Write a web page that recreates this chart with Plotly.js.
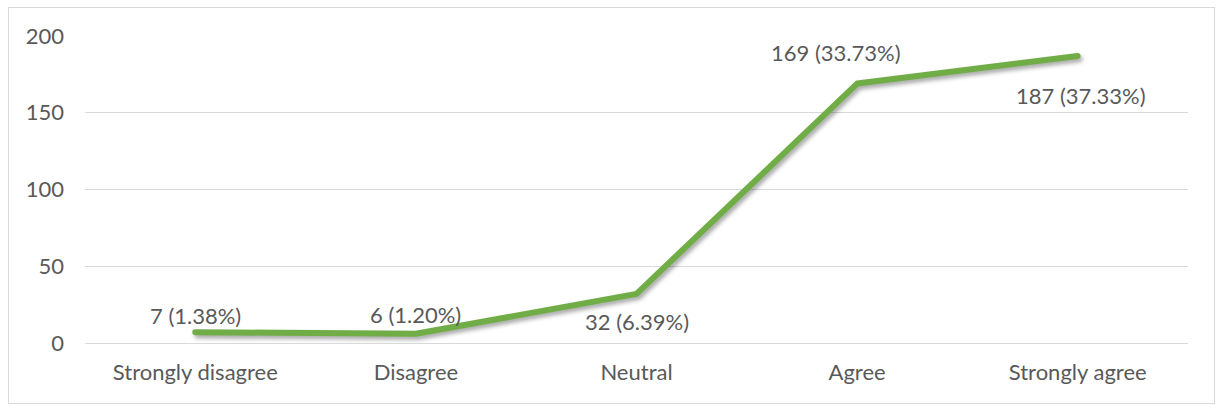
<!DOCTYPE html>
<html>
<head>
<meta charset="utf-8">
<script src="https://cdn.plot.ly/plotly-3.0.1.min.js"></script>
<style>
  html, body { margin: 0; padding: 0; background: #ffffff; }
  #wrap { position: relative; width: 1217px; height: 406px; }
  #chart { width: 1217px; height: 406px; }
  #frame {
    position: absolute; left: 8px; top: 7px; width: 1207px; height: 397px;
    border: 1px solid #d9d9d9; pointer-events: none; box-sizing: border-box;
  }
  .scatterlayer .js-line {
    stroke-linecap: round; stroke-linejoin: round;
    filter: drop-shadow(2px 3px 2px rgba(0, 0, 0, 0.35));
  }
</style>
</head>
<body>
<div id="wrap">
  <div id="chart"></div>
  <div id="frame"></div>
</div>
<script>
// Responses per answer option
const categories = ["Strongly disagree", "Disagree", "Neutral", "Agree", "Strongly agree"];
const counts = [7, 6, 32, 169, 187];
const percents = ["1.38%", "1.20%", "6.39%", "33.73%", "37.33%"];
const yTicks = [0, 50, 100, 150, 200];

// label placement around each point (pixels)
const labelDx = [0, 0, 0, -21, 3];
const labelDy = [17, 19, -28, 31, -40];

const textColor = "#595959";
const fontFamily = "Lato, 'Open Sans', sans-serif";
const fontSize = 22;

const trace = {
  type: "scatter",
  mode: "lines",
  x: categories,
  y: counts,
  line: { color: "#70AD47", width: 6 },
  hoverinfo: "skip"
};

const annotations = categories.map((c, i) => ({
  x: c,
  y: counts[i],
  xref: "x",
  yref: "y",
  text: counts[i] + " (" + percents[i] + ")",
  showarrow: false,
  xshift: labelDx[i],
  yshift: labelDy[i],
  font: { family: fontFamily, size: fontSize, color: textColor }
}));

const layout = {
  width: 1217,
  height: 406,
  margin: { l: 85, r: 29, t: 36, b: 63 },
  paper_bgcolor: "#ffffff",
  plot_bgcolor: "#ffffff",
  showlegend: false,
  font: { family: fontFamily, size: fontSize, color: textColor },
  xaxis: {
    type: "category",
    range: [-0.5, 4.5],
    showgrid: false,
    showline: false,
    zeroline: false,
    ticks: "",
    tickfont: { family: fontFamily, size: fontSize, color: textColor },
    ticklabelstandoff: 14
  },
  yaxis: {
    range: [0, 200],
    tickvals: yTicks,
    ticktext: yTicks.map(String),
    showgrid: true,
    gridcolor: "#d9d9d9",
    gridwidth: 1,
    zeroline: true,
    zerolinecolor: "#d9d9d9",
    zerolinewidth: 1,
    showline: false,
    ticks: "",
    tickfont: { family: fontFamily, size: fontSize, color: textColor },
    ticklabelstandoff: 20
  },
  annotations: annotations
};

Plotly.newPlot("chart", [trace], layout, { displayModeBar: false, staticPlot: true });
</script>
</body>
</html>
